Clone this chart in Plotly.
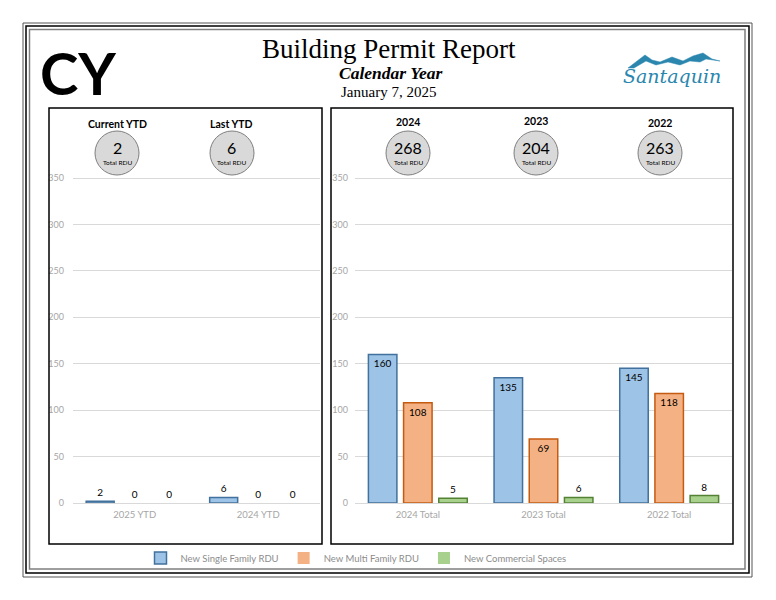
import plotly.graph_objects as go

# ---------------- data ----------------
ytd_categories = ["2025 YTD", "2024 YTD"]
ytd_single = [2, 6]
ytd_multi = [0, 0]
ytd_commercial = [0, 0]

year_categories = ["2024 Total", "2023 Total", "2022 Total"]
year_single = [160, 135, 145]
year_multi = [108, 69, 118]
year_commercial = [5, 6, 8]

ytd_headers = ["Current YTD", "Last YTD"]
year_headers = ["2024", "2023", "2022"]

series_names = ["New Single Family RDU", "New Multi Family RDU", "New Commercial Spaces"]
y_ticks = [0, 50, 100, 150, 200, 250, 300, 350]

# ---------------- helpers ----------------
OFF = 8  # page body margin
W, H = 776 - 2 * OFF, 600 - 2 * OFF


def px(x):
    return (x - OFF) / W


def py(y):
    return 1 - (y - OFF) / H


fills = ["#9DC3E6", "#F4B183", "#A9D18E"]
edges = ["#41719C", "#C55A11", "#548235"]
SANS = "Lato, Carlito, Calibri, 'Liberation Sans', sans-serif"
SERIF = "'Liberation Serif', 'Times New Roman', serif"

fig = go.Figure()

left_series = [ytd_single, ytd_multi, ytd_commercial]
right_series = [year_single, year_multi, year_commercial]


def bar(name, i, cats, vals, xa, ya, show):
    return go.Bar(
        x=cats, y=vals, text=vals, name=name, xaxis=xa, yaxis=ya, showlegend=show,
        marker=dict(color=fills[i],
                    line=dict(color=edges[i], width=[1.5 if v > 0 else 0 for v in vals])),
        textposition=["auto" if v > 0 else "outside" for v in vals],
        textangle=0,
        insidetextanchor="end",
        textfont=dict(color="#000000", size=10, family=SANS),
        insidetextfont=dict(color="#000000", size=10, family=SANS),
        outsidetextfont=dict(color="#000000", size=10, family=SANS),
        cliponaxis=False,
        legendgroup=name,
    )


for i, name in enumerate(series_names):
    fig.add_trace(bar(name, i, ytd_categories, left_series[i], "x", "y", True))
    fig.add_trace(bar(name, i, year_categories, right_series[i], "x2", "y2", False))

# axis geometry: 0 at y=503px, 350 at y=178px
unit = (503 - 178) / 350
ytop_val = 360
y_dom = [py(503), py(503 - ytop_val * unit)]

axis_y_common = dict(
    range=[0, ytop_val], tickvals=y_ticks, showgrid=True, gridcolor="#D9D9D9",
    gridwidth=1, zeroline=True, zerolinecolor="#D9D9D9", zerolinewidth=1,
    showline=False, tickfont=dict(size=9, color="#A6A6A6", family=SANS),
    domain=y_dom, fixedrange=True, automargin=False,
)
axis_x_common = dict(
    showline=False, showgrid=False, ticks="", ticklabelstandoff=4,
    tickfont=dict(size=9.5, color="#A6A6A6", family=SANS), fixedrange=True,
    automargin=False,
)

fig.update_layout(
    width=W, height=H,
    margin=dict(l=0, r=0, t=0, b=0, pad=0, autoexpand=False),
    paper_bgcolor="white", plot_bgcolor="white",
    barmode="group", bargap=0.16, bargroupgap=0.19,
    xaxis=dict(domain=[px(73), px(320)], anchor="y", **axis_x_common),
    yaxis=dict(anchor="x", ticklabelstandoff=8, **axis_y_common),
    xaxis2=dict(domain=[px(355), px(732)], anchor="y2", **axis_x_common),
    yaxis2=dict(anchor="x2", ticklabelstandoff=6, **axis_y_common),
    legend=dict(orientation="h", x=px(356), xanchor="center", y=py(558), yanchor="middle",
                font=dict(size=9.5, color="#8C8C8C", family=SANS),
                itemwidth=30, traceorder="normal", bgcolor="rgba(0,0,0,0)"),
    showlegend=True,
)

shapes = []
# outer frames
for (x0, y0, x1, y1, col, w) in [
    (23, 23, 752, 577, "#555555", 1),
    (26, 26, 749, 573, "#000000", 1.5),
    (29.5, 29.5, 745, 569, "#7F7F7F", 1.5),
]:
    shapes.append(dict(type="rect", xref="paper", yref="paper", x0=px(x0), x1=px(x1),
                       y0=py(y0), y1=py(y1), line=dict(color=col, width=w),
                       fillcolor="rgba(0,0,0,0)", layer="above"))
# panels
for (x0, x1) in [(49, 322), (331, 733)]:
    shapes.append(dict(type="rect", xref="paper", yref="paper", x0=px(x0), x1=px(x1),
                       y0=py(108), y1=py(544), line=dict(color="#000", width=1.5),
                       fillcolor="rgba(0,0,0,0)", layer="above"))

annotations = []


def ann(x, y, text, size, family=SANS, color="#000"):
    return dict(x=px(x), y=py(y), xref="paper", yref="paper", showarrow=False,
                xanchor="center", yanchor="middle", text=text,
                font=dict(size=size, color=color, family=family))


# bubbles
totals_ytd = [s + m for s, m in zip(ytd_single, ytd_multi)]
totals_year = [s + m for s, m in zip(year_single, year_multi)]
bubble_specs = [(117, 124, ytd_headers[0], totals_ytd[0]),
                (232, 124, ytd_headers[1], totals_ytd[1]),
                (408, 122, year_headers[0], totals_year[0]),
                (536, 121, year_headers[1], totals_year[1]),
                (660, 123, year_headers[2], totals_year[2])]
r = 22
cy = 153
for (cx, hy, head, tot) in bubble_specs:
    shapes.append(dict(type="circle", xref="paper", yref="paper",
                       x0=px(cx - r), x1=px(cx + r), y0=py(cy + r), y1=py(cy - r),
                       fillcolor="#D9D9D9", line=dict(color="#7F7F7F", width=1), layer="above"))
    annotations.append(ann(cx, hy, f"<b>{head}</b>", 10.5))
    annotations.append(ann(cx, 148, str(tot), 16))
    annotations.append(ann(cx, 162, "Total RDU", 6.5))

# title block
annotations += [
    ann(78, 73, "<b>CY</b>", 58, family="'Liberation Sans Narrow', 'Arial Narrow', Lato, sans-serif"),
    ann(389, 49, "Building Permit Report", 27, family=SERIF),
    ann(391, 73, "<b><i>Calendar Year</i></b>", 17.5, family=SERIF),
    ann(388, 92, "January 7, 2025", 15, family=SERIF),
    ann(672, 76, "<i>Santaquin</i>", 19, family="'DejaVu Serif', serif", color="#2B86AE"),
]


# logo mountains (decoration)
def pth(points):
    return "M " + " L ".join(f"{px(x):.5f},{py(y):.5f}" for x, y in points) + " Z"


shapes.append(dict(type="path", xref="paper", yref="paper", layer="above",
                   path=pth([(628, 68), (645, 55), (652, 60), (660, 62), (672, 57), (683, 61),
                             (693, 56), (703, 53), (712, 59), (720, 61), (706, 59), (700, 62),
                             (690, 61), (680, 65), (668, 62), (656, 65), (646, 61), (634, 68)]),
                   fillcolor="#2B86AE", line=dict(color="#2B86AE", width=0.5)))

fig.update_layout(shapes=shapes, annotations=annotations)
fig.write_html("out.html")
